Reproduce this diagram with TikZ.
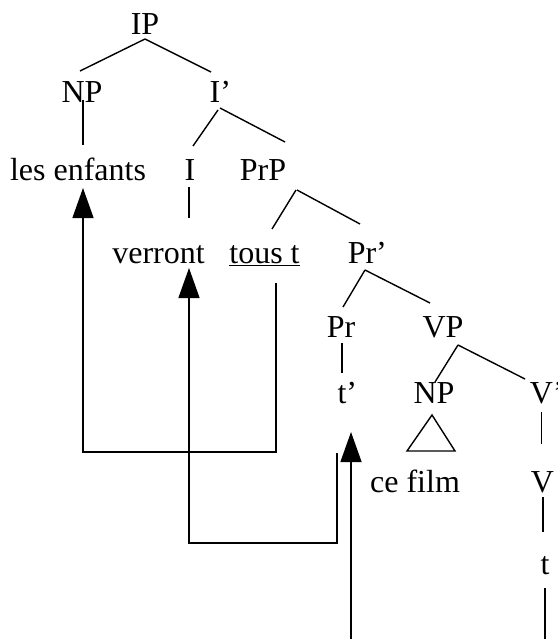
\documentclass[tikz,border=0pt]{standalone}
\usepackage{fontspec}
\setmainfont{Liberation Serif}
\usetikzlibrary{arrows.meta,calc}
\tikzset{
  lab/.style={font=\fontsize{32}{38}\selectfont, inner sep=0pt, anchor=base},
  br/.style={line width=1.4pt},
  mv/.style={line width=1.3pt, -{Triangle[length=30pt,width=21pt]}},
}
\begin{document}
\begin{tikzpicture}[x=1pt,y=-1pt]
\useasboundingbox (0,0) rectangle (557,639);
% nodes
\node[lab] (IP)   at (145,35)  {IP};
\node[lab] (NP)   at (82,103)  {NP};
\node[lab] (Ib)   at (215,103) {I\rlap{’}};
\node[lab] (enf)  at (78,180)  {les enfants};
\node[lab] (I)    at (190,180) {I};
\node[lab] (PrP)  at (263,180) {PrP};
\node[lab] (verr) at (158.5,263) {verront};
\node[lab] (tous) at (264.5,263) {\underline{tous t}};
\node[lab] (Prb)  at (362,263) {Pr\rlap{’}};
\node[lab] (Pr)   at (341,337) {Pr};
\node[lab] (VP)   at (443,337) {VP};
\node[lab] (tp)   at (342,403) {t\rlap{’}};
\node[lab] (NP2)  at (434,403) {NP};
\node[lab] (Vb)   at (541.5,403) {V\rlap{’}};
\node[lab] (film) at (415,492) {ce film};
\node[lab] (V)    at (542.5,492) {V};
\node[lab] (t)    at (545,574) {t};
\coordinate (tb) at (545,639);
\coordinate (b3) at (351,639);
\coordinate (k1) at (83,452);
\coordinate (k2) at (189,543);
% tree branches
\draw[br] ($(IP.base)+(0,4)$) -- ($(NP.base)+(-2,-32)$);
\draw[br] ($(IP.base)+(0,4)$) -- ($(Ib.base)+(-4,-31)$);
\draw[br] ($(NP.base)+(1,-3)$) -- ($(NP.base |- enf.base)+(1,-35)$);
\draw[br] ($(Ib.base)+(3,7)$) -- ($(I.base)+(3,-34)$);
\draw[br] ($(Ib.base)+(5,5)$) -- ($(PrP.base)+(22,-38)$);
\draw[br] ($(I.base)+(-1,7)$) -- ($(I.base)+(-1,38)$);
\draw[br] ($(PrP.base)+(33,10)$) -- ($(tous.base)+(7.5,-34)$);
\draw[br] ($(PrP.base)+(34,10)$) -- ($(Prb.base)+(-2,-39)$);
\draw[br] ($(Prb.base)+(3,7)$) -- ($(Pr.base)+(2,-30)$);
\draw[br] ($(Prb.base)+(3,7)$) -- ($(VP.base)+(-13,-34)$);
\draw[br] ($(Pr.base)+(1,6)$) -- ($(tp.base)+(0,-30)$);
\draw[br] ($(VP.base)+(15,8)$) -- ($(NP2.base)+(1,-21)$);
\draw[br] ($(VP.base)+(15,8)$) -- ($(Vb.base)+(-16.5,-24)$);
\draw[br] ($(NP2.base)+(-2,12)$) -- ($(NP2.base)+(-27,48)$) -- ($(NP2.base)+(21,48)$) -- cycle;
\draw[br] ($(Vb.base)+(0,9)$) -- ($(Vb.base)+(0,41)$);
\draw[br] ($(V.base)+(0.5,5)$) -- ($(V.base)+(0.5,40)$);
\draw[br] ($(t.base)+(0,14)$) -- (tb);
% movement arrows
\draw[mv] ($(tous.base)+(11.5,20)$) |- (k1) -- ($(NP.base |- enf.base)+(1,8)$);
\draw[mv] ($(tp.base)+(-5,50)$) |- (k2) -- ($(I.base |- verr.base)+(-1,5)$);
\draw[mv] (b3) -- ($(tp.base)+(9,29)$);
\end{tikzpicture}
\end{document}
